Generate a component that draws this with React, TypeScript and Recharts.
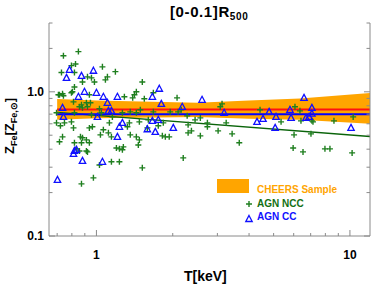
import { ComposedChart, Scatter, Line, Area, XAxis, YAxis } from 'recharts'

// AGN non-cool-core clusters: [T (keV), Z_Fe]
const nccPoints = [
  [0.741, 1.78], [0.849, 1.9], [0.797, 1.52], [0.827, 1.56], [0.728, 1.36], [0.819, 1.36],
  [1.056, 1.49], [1.188, 1.38], [0.922, 1.27], [0.956, 1.25], [0.881, 1.17], [0.982, 1.17],
  [1.105, 1.27], [1.085, 1.21], [1.517, 1.17], [0.819, 1.08], [0.804, 1.0], [1.437, 1.0],
  [0.735, 0.97], [0.715, 0.953], [0.797, 0.984], [0.938, 0.953], [1.289, 0.923], [1.412, 0.953],
  [0.873, 0.812], [0.913, 0.839], [0.881, 0.774], [1.028, 0.762], [1.046, 0.715], [0.696, 0.715],
  [0.819, 0.715], [0.956, 0.692], [1.156, 0.67], [1.437, 0.715], [0.696, 0.609], [0.748, 0.609],
  [0.964, 0.572], [0.938, 0.562], [1.125, 0.609], [1.349, 0.609], [1.477, 0.619], [0.735, 0.487],
  [0.881, 0.48], [0.913, 0.464], [0.715, 0.45], [0.819, 0.443], [0.873, 0.443], [0.938, 0.443],
  [1.115, 0.519], [1.146, 0.487], [1.437, 0.487], [1.477, 0.464], [1.199, 0.408], [0.834, 0.402],
  [0.857, 0.389], [0.913, 0.389], [0.922, 0.383], [1.146, 0.327], [1.028, 0.311], [1.232, 0.327],
  [1.232, 0.402], [1.277, 0.415], [1.266, 0.396], [1.463, 0.428], [1.517, 0.297], [0.973, 0.253],
  [0.873, 0.23], [1.677, 0.984], [2.08, 0.908], [3.13, 0.825], [3.08, 0.787], [1.677, 0.726],
  [1.955, 0.726], [2.1, 0.726], [2.16, 0.75], [2.28, 0.681], [1.602, 0.639], [1.836, 0.609],
  [2.45, 0.639], [2.57, 0.659], [2.74, 0.609], [2.74, 0.572], [3.25, 0.609], [1.754, 0.581],
  [2.3, 0.59], [2.3, 0.519], [2.37, 0.536], [3.02, 0.536], [3.43, 0.511], [3.66, 0.443],
  [1.82, 0.495], [1.937, 0.487], [2.57, 0.495], [2.2, 0.348], [4.42, 0.75], [6.07, 0.787],
  [6.35, 0.738], [6.41, 0.629], [5.35, 0.619], [7.08, 0.629], [7.15, 0.619], [8.65, 0.629],
  [10.3, 0.67], [6.02, 0.503], [7.02, 0.511], [5.97, 0.408], [6.53, 0.383], [7.97, 0.402],
  [8.34, 0.402], [10.2, 0.377], [0.708, 0.953], [0.741, 0.938], [0.857, 0.787], [0.812, 0.852],
  [0.922, 0.787], [0.947, 0.839], [0.721, 0.581], [0.797, 0.619], [0.812, 0.562], [0.865, 0.487],
  [1.266, 0.715], [1.36, 0.726], [1.49, 0.75], [1.39, 0.908], [1.545, 0.894], [1.325, 0.572],
  [1.36, 0.503], [1.87, 0.487], [1.588, 0.562], [1.065, 0.545], [1.037, 0.503],
]

// AGN cool-core clusters
const ccPoints = [
  [0.783, 1.42], [0.762, 1.25], [0.873, 1.29], [0.973, 1.4], [0.897, 1.0], [1.0, 0.984],
  [0.849, 0.923], [1.065, 0.923], [1.21, 0.923], [0.735, 0.774], [1.105, 0.839], [1.115, 0.738],
  [1.146, 0.738], [0.741, 0.67], [1.009, 0.67], [1.266, 0.609], [1.232, 0.572], [1.21, 0.487],
  [1.588, 0.55], [0.819, 0.389], [0.834, 0.396], [0.812, 0.371], [0.881, 0.332], [1.056, 0.327],
  [0.702, 0.245], [1.77, 1.05], [1.662, 0.923], [1.803, 0.825], [2.61, 0.88], [2.18, 0.787],
  [3.19, 0.715], [1.662, 0.629], [1.754, 0.639], [1.707, 0.527], [2.01, 0.562], [6.59, 0.908],
  [4.8, 0.726], [5.8, 0.75], [7.08, 0.774], [7.08, 0.705], [4.54, 0.649], [4.3, 0.619],
  [5.11, 0.67], [5.86, 0.659], [6.71, 0.659], [6.9, 0.67], [10.1, 0.562], [5.07, 0.562],
]

// CHEERS sample fit band: T, low, high
const bandT = [0.7, 1, 2.5, 4, 6.35, 12]
const bandLow = [0.64, 0.655, 0.67, 0.65, 0.64, 0.6]
const bandHigh = [0.89, 0.87, 0.84, 0.87, 0.9, 0.98]

const fitT = [0.7, 12]
const cheersFit = [0.755, 0.755]
const ccFit = [0.7, 0.7]
const nccFit = [0.72, 0.49]

const xTicks = [0.7, 0.8, 0.9, 1, 2, 3, 4, 5, 6, 7, 8, 9, 10]
const xLabels: Record<string, string> = { '1': '1', '10': '10' }
const yTicks = [0.1, 0.2, 0.3, 0.4, 0.5, 0.6, 0.7, 0.8, 0.9, 1, 2, 3]
const yLabels: Record<string, string> = { '0.1': '0.1', '1': '1.0' }

const nccColor = '#1f7f1f'
const ccColor = '#1010ff'
const orange = '#FFA500'
const frame = '#8a8a8a'
const font = 'Liberation Sans, Arial, sans-serif'

const nccData = nccPoints.map(([T, Z]) => ({ T, Z }))
const ccData = ccPoints.map(([T, Z]) => ({ T, Z }))
const bandData = bandT.map((T, i) => ({ T, range: [bandLow[i], bandHigh[i]] }))
const cheersLine = fitT.map((T, i) => ({ T, Z: cheersFit[i] }))
const ccLine = fitT.map((T, i) => ({ T, Z: ccFit[i] }))
const nccLine = fitT.map((T, i) => ({ T, Z: nccFit[i] }))

const isMajor = (v: number) => v === 1 || v === 10 || v === 0.1

const Plus = (p: any) => {
  const { cx, cy } = p
  if (cx == null || cy == null) return null
  return (
    <path
      d={`M${cx - 3},${cy}H${cx + 3}M${cx},${cy - 3}V${cy + 3}`}
      stroke={nccColor}
      strokeWidth={1.4}
    />
  )
}

const Tri = (p: any) => {
  const { cx, cy } = p
  if (cx == null || cy == null) return null
  return (
    <path
      d={`M${cx},${cy - 3.5}L${cx + 3.2},${cy + 2.5}L${cx - 3.2},${cy + 2.5}Z`}
      stroke={ccColor}
      strokeWidth={1.3}
      fill="none"
    />
  )
}

const BottomTick = ({ x, y, payload }: any) => {
  const v = payload.value
  const len = isMajor(v) ? 6 : 3
  const label = xLabels[String(v)]
  return (
    <g>
      <line x1={x} x2={x} y1={y} y2={y - len} stroke={frame} />
      {label && (
        <text x={x} y={y + 23} textAnchor="middle" fontSize={12} fontWeight="bold" fontFamily={font} fill="#000">
          {label}
        </text>
      )}
    </g>
  )
}

const TopTick = ({ x, y, payload }: any) => {
  const len = isMajor(payload.value) ? 6 : 3
  return <line x1={x} x2={x} y1={y} y2={y + len} stroke={frame} />
}

const LeftTick = ({ x, y, payload }: any) => {
  const v = payload.value
  const len = isMajor(v) ? 6 : 3.5
  const label = yLabels[String(v)]
  return (
    <g>
      <line x1={x} x2={x + len} y1={y} y2={y} stroke={frame} />
      {label && (
        <text x={x - 5} y={y + 4} textAnchor="end" fontSize={12} fontWeight="bold" fontFamily={font} fill="#000">
          {label}
        </text>
      )}
    </g>
  )
}

const RightTick = ({ x, y, payload }: any) => {
  const len = isMajor(payload.value) ? 6 : 3.5
  return <line x1={x} x2={x - len} y1={y} y2={y} stroke={frame} />
}

export default function App() {
  return (
    <div style={{ position: 'absolute', left: 0, top: 0, width: 374, height: 286, background: '#fff' }}>
      <ComposedChart width={374} height={286} margin={{ top: 23, right: 0, bottom: 0, left: 0 }}>
        <XAxis
          xAxisId="b"
          dataKey="T"
          type="number"
          scale="log"
          domain={[0.65, 12]}
          allowDataOverflow
          ticks={xTicks}
          interval={0}
          height={50}
          tickSize={0}
          tickMargin={0}
          tickLine={false}
          axisLine={{ stroke: frame }}
          tick={BottomTick}
        />
        <XAxis
          xAxisId="t"
          orientation="top"
          dataKey="T"
          type="number"
          scale="log"
          domain={[0.65, 12]}
          allowDataOverflow
          ticks={xTicks}
          interval={0}
          height={0}
          tickSize={0}
          tickMargin={0}
          tickLine={false}
          axisLine={{ stroke: frame }}
          tick={TopTick}
        />
        <YAxis
          yAxisId="l"
          dataKey="Z"
          type="number"
          scale="log"
          domain={[0.1, 3]}
          allowDataOverflow
          ticks={yTicks}
          interval={0}
          width={49}
          tickSize={0}
          tickMargin={0}
          tickLine={false}
          axisLine={{ stroke: frame }}
          tick={LeftTick}
        />
        <YAxis
          yAxisId="r"
          orientation="right"
          dataKey="Z"
          type="number"
          scale="log"
          domain={[0.1, 3]}
          allowDataOverflow
          ticks={yTicks}
          interval={0}
          width={4}
          tickSize={0}
          tickMargin={0}
          tickLine={false}
          axisLine={{ stroke: frame }}
          tick={RightTick}
        />
        <Area
          xAxisId="b"
          yAxisId="l"
          data={bandData}
          dataKey="range"
          type="linear"
          stroke="none"
          fill={orange}
          fillOpacity={1}
          isAnimationActive={false}
        />
        <Scatter xAxisId="b" yAxisId="l" data={nccData} shape={Plus} isAnimationActive={false} />
        <Scatter xAxisId="b" yAxisId="l" data={ccData} shape={Tri} isAnimationActive={false} />
        <Line xAxisId="b" yAxisId="l" data={nccLine} dataKey="Z" type="linear" stroke="#0a640a" strokeWidth={1.5} dot={false} isAnimationActive={false} />
        <Line xAxisId="b" yAxisId="l" data={ccLine} dataKey="Z" type="linear" stroke="#0000ff" strokeWidth={2} dot={false} isAnimationActive={false} />
        <Line xAxisId="b" yAxisId="l" data={cheersLine} dataKey="Z" type="linear" stroke="#ff1010" strokeWidth={2} dot={false} isAnimationActive={false} />
      </ComposedChart>
      <svg width={374} height={286} style={{ position: 'absolute', left: 0, top: 0, pointerEvents: 'none' }}>
        <text x={170} y={17} fontSize={15} fontWeight="bold" fontFamily={font} letterSpacing={0.6} fill="#000">
          [0-0.1]R<tspan fontSize={10} dy={3}>500</tspan>
        </text>
        <text x={184} y={281} fontSize={14} fontWeight="bold" fontFamily={font} fill="#000">
          T[keV]
        </text>
        <text
          x={0}
          y={0}
          transform="translate(14,126) rotate(-90)"
          textAnchor="middle"
          fontSize={13}
          fontWeight="bold"
          fontFamily={font}
          fill="#000"
        >
          Z<tspan fontSize={9} dy={2.5}>Fe</tspan>
          <tspan dy={-2.5}>[Z</tspan>
          <tspan fontSize={9} dy={2.5}>Fe,⊙</tspan>
          <tspan dy={-2.5}>]</tspan>
        </text>
        <rect x={217} y={179} width={32} height={14} fill={orange} />
        <text x={257} y={193} fontSize={10} fontWeight="bold" fontFamily={font} fill={orange}>
          CHEERS Sample
        </text>
        <path d="M246,204H252M249,201V207" stroke={nccColor} strokeWidth={1.4} />
        <text x={257} y={207} fontSize={10} fontWeight="bold" fontFamily={font} fill="#137013">
          AGN NCC
        </text>
        <path d="M249,215.5L252.2,221.5L245.8,221.5Z" stroke={ccColor} strokeWidth={1.3} fill="none" />
        <text x={257} y={220} fontSize={10} fontWeight="bold" fontFamily={font} fill={ccColor}>
          AGN CC
        </text>
      </svg>
    </div>
  )
}
